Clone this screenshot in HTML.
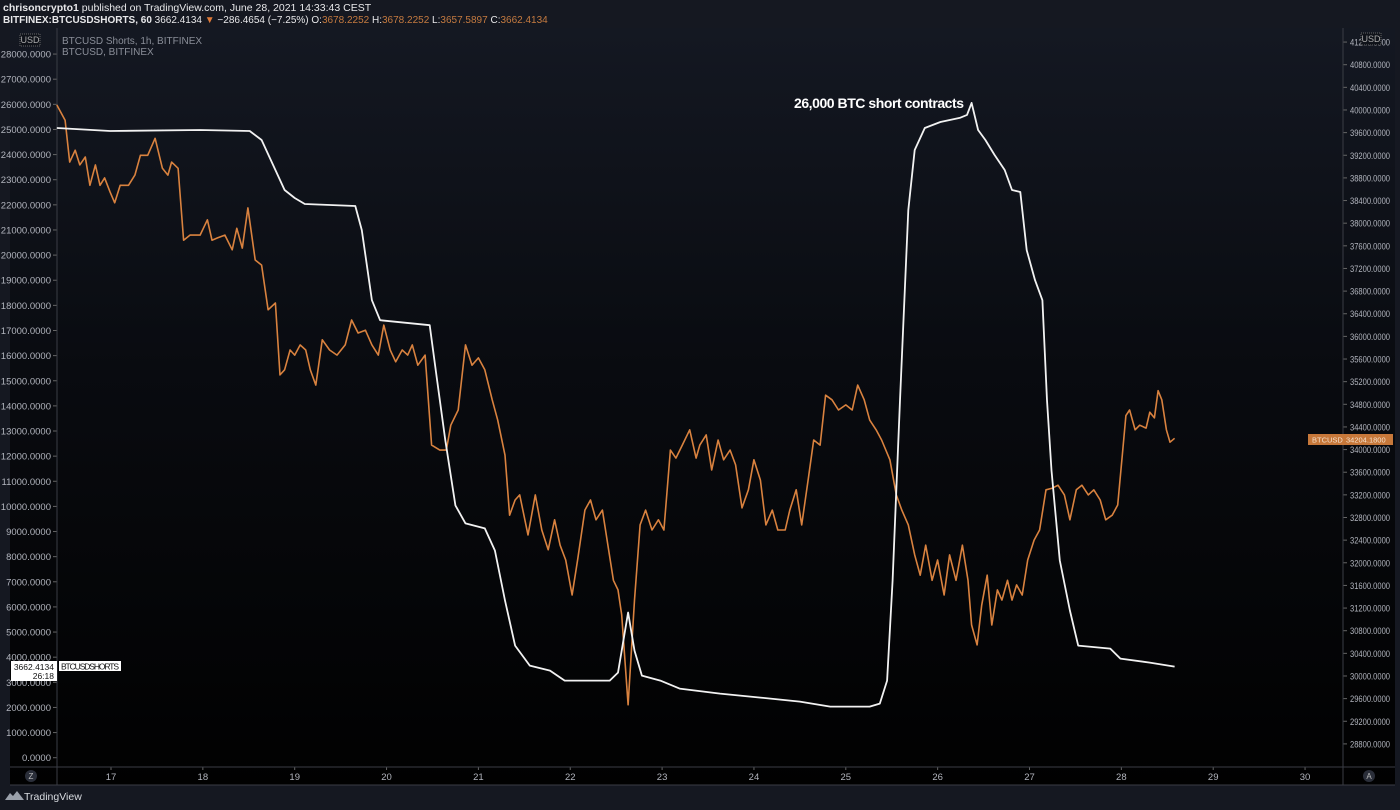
<!DOCTYPE html>
<html><head><meta charset="utf-8"><style>
html,body{margin:0;padding:0;background:#000;}
body{width:1400px;height:810px;overflow:hidden;font-family:"Liberation Sans",sans-serif;}
svg{display:block}
</style></head><body>
<svg id="chart" width="1400" height="810" xmlns="http://www.w3.org/2000/svg">
<defs>
<linearGradient id="bg" x1="0" y1="0" x2="0" y2="1">
<stop offset="0" stop-color="#141822"/><stop offset="0.45" stop-color="#090b10"/><stop offset="1" stop-color="#010101"/>
</linearGradient>
</defs>
<rect x="0" y="0" width="1400" height="810" fill="#151821"/>
<rect x="10" y="28" width="1385" height="757" fill="url(#bg)"/>
<text x="3" y="11" font-size="10.5" fill="#e8e8ea"><tspan font-weight="bold">chrisoncrypto1</tspan> published on TradingView.com, June 28, 2021 14:33:43 CEST</text>
<text x="3" y="23" font-size="10" fill="#e8e8ea"><tspan font-weight="bold">BITFINEX:BTCUSDSHORTS, 60</tspan> 3662.4134 <tspan fill="#e07b39">▼</tspan> −286.4654 (−7.25%) O:<tspan fill="#c47a40">3678.2252</tspan> H:<tspan fill="#c47a40">3678.2252</tspan> L:<tspan fill="#c47a40">3657.5897</tspan> C:<tspan fill="#c47a40">3662.4134</tspan></text>
<text x="62" y="44" font-size="10" fill="#8a8e98">BTCUSD Shorts, 1h, BITFINEX</text>
<text x="62" y="55" font-size="10" fill="#8a8e98">BTCUSD, BITFINEX</text>
<g id="leftAxis"></g>
<g id="rightAxis"></g>
<g id="xAxis"></g>
<line x1="57" y1="28" x2="57" y2="785" stroke="#3a3d45"/>
<line x1="1343" y1="28" x2="1343" y2="785" stroke="#3a3d45"/>
<line x1="10" y1="767" x2="1395" y2="767" stroke="#3a3d45"/>
<line x1="10" y1="785" x2="1395" y2="785" stroke="#3a3d45"/>
<rect x="20" y="34" width="20" height="12" fill="#0f1219" stroke="#666" stroke-dasharray="1,1"/>
<text x="30" y="43" font-size="9" fill="#aaa" text-anchor="middle">USD</text>
<g id="series"></g>
<rect x="1361" y="33" width="20" height="12" fill="#0f1219" stroke="#666" stroke-dasharray="1,1"/>
<text x="1371" y="42" font-size="9" fill="#aaa" text-anchor="middle">USD</text>
<circle cx="31" cy="776" r="6" fill="#2a2e39"/>
<text x="31" y="779" font-size="8" fill="#bbb" text-anchor="middle">Z</text>
<circle cx="1369" cy="776" r="6" fill="#2a2e39"/>
<text x="1369" y="779" font-size="8" fill="#bbb" text-anchor="middle">A</text>
<text x="794" y="108" font-size="14" font-weight="bold" fill="#ffffff" textLength="170">26,000 BTC short contracts</text>
<rect x="11" y="661" width="46" height="20" fill="#ffffff"/>
<text x="54" y="670" font-size="8.5" fill="#111" text-anchor="end">3662.4134</text>
<text x="54" y="679" font-size="8.5" fill="#111" text-anchor="end">26:18</text>
<rect x="59" y="661" width="62" height="10" fill="#ffffff"/>
<text x="61" y="669.5" font-size="8.5" fill="#111" textLength="58">BTCUSDSHORTS</text>
<rect x="1308" y="434" width="85" height="11" fill="#c7783a"/>
<text x="1312" y="442.5" font-size="7.5" fill="#f5e0cc">BTCUSD</text>
<text x="1346" y="442.5" font-size="7.5" fill="#f5e0cc">34204.1800</text>
<g>
<path d="M5 800 L10 793 L13 796 L17 791 L24 800 Z" fill="#9aa0aa"/>
<text x="24" y="800" font-size="10.5" fill="#d8dbe0">TradingView</text>
</g>
</svg>
<script>
const leftTicks=[0,1000,2000,3000,4000,5000,6000,7000,8000,9000,10000,11000,12000,13000,14000,15000,16000,17000,18000,19000,20000,21000,22000,23000,24000,25000,26000,27000,28000,29000];
const rightTicks=[28800,29200,29600,30000,30400,30800,31200,31600,32000,32400,32800,33200,33600,34000,34400,34800,35200,35600,36000,36400,36800,37200,37600,38000,38400,38800,39200,39600,40000,40400,40800,41200];
const dayTicks=[17,18,19,20,21,22,23,24,25,26,27,28,29,30];
const shortsTime=[16.41,16.99,17.97,18.51,18.64,18.79,18.89,19.00,19.11,19.66,19.73,19.84,19.93,20.47,20.55,20.64,20.75,20.86,21.07,21.18,21.29,21.40,21.56,21.78,21.94,22.43,22.52,22.63,22.70,22.78,22.98,23.19,23.63,24.07,24.50,24.83,25.26,25.37,25.45,25.51,25.59,25.68,25.75,25.86,26.03,26.24,26.32,26.37,26.44,26.52,26.62,26.73,26.81,26.90,26.97,27.06,27.14,27.19,27.24,27.33,27.44,27.53,27.88,27.99,28.31,28.58];
const shortsValues=[25059,24940,24980,24940,24581,23386,22589,22271,22032,21952,20996,18207,17410,17211,15020,12629,10040,9323,9124,8247,6255,4462,3665,3466,3068,3068,3386,5777,4263,3267,3068,2749,2550,2390,2231,2032,2032,2151,3068,7052,14223,21792,24183,25059,25298,25458,25577,26055,24980,24581,23984,23386,22589,22510,20199,19004,18207,14223,11434,7848,5856,4462,4343,3944,3785,3625];
const priceTime=[16.41,16.50,16.55,16.61,16.66,16.72,16.77,16.83,16.88,16.93,16.99,17.04,17.10,17.19,17.26,17.32,17.40,17.48,17.56,17.62,17.66,17.73,17.79,17.86,17.97,18.05,18.10,18.16,18.24,18.32,18.37,18.43,18.49,18.57,18.64,18.71,18.79,18.84,18.89,18.95,19.00,19.06,19.12,19.17,19.23,19.30,19.38,19.46,19.55,19.62,19.69,19.77,19.84,19.91,19.97,20.04,20.10,20.17,20.23,20.28,20.34,20.42,20.49,20.58,20.65,20.70,20.78,20.86,20.93,21.00,21.07,21.15,21.21,21.29,21.34,21.40,21.45,21.54,21.62,21.69,21.76,21.83,21.89,21.95,22.02,22.08,22.16,22.22,22.28,22.35,22.41,22.47,22.52,22.56,22.63,22.70,22.76,22.82,22.89,22.96,23.02,23.09,23.15,23.22,23.30,23.37,23.41,23.48,23.54,23.61,23.67,23.74,23.80,23.87,23.94,24.00,24.07,24.13,24.20,24.26,24.34,24.39,24.46,24.52,24.59,24.65,24.72,24.78,24.85,24.92,25.00,25.07,25.13,25.20,25.26,25.33,25.39,25.48,25.55,25.61,25.68,25.75,25.81,25.87,25.94,26.00,26.07,26.13,26.20,26.27,26.33,26.37,26.43,26.48,26.54,26.59,26.65,26.70,26.76,26.81,26.86,26.92,26.98,27.05,27.11,27.18,27.25,27.31,27.38,27.44,27.51,27.57,27.64,27.70,27.77,27.83,27.90,27.96,28.01,28.05,28.09,28.15,28.20,28.27,28.31,28.36,28.40,28.44,28.49,28.53,28.58];
const priceValues=[40090,39820,39080,39290,39030,39170,38670,39030,38670,38800,38550,38360,38670,38670,38850,39200,39200,39500,38970,38850,39080,38970,37700,37790,37790,38060,37700,37740,37790,37530,37910,37560,38270,37350,37260,36470,36590,35320,35410,35760,35670,35850,35760,35410,35140,35940,35760,35670,35850,36290,36060,36110,35850,35670,36200,35760,35550,35760,35670,35850,35490,35670,34080,33990,33990,34430,34700,35850,35490,35620,35410,34880,34520,33900,32840,33110,33200,32490,33200,32580,32230,32760,32310,32050,31430,32050,32930,33110,32760,32930,32310,31690,31520,31080,29490,31340,32670,32930,32580,32760,32580,33990,33850,34080,34350,33850,34080,34260,33640,34170,33820,33990,33730,32970,33290,33820,33460,32670,32930,32580,32580,32930,33290,32670,33460,34170,34080,34960,34880,34700,34790,34700,35140,34880,34520,34350,34170,33820,33200,32930,32670,32140,31780,32310,31690,32050,31430,32140,31690,32310,31690,30900,30550,31250,31780,30900,31520,31340,31690,31340,31610,31430,32050,32400,32580,33290,33320,33370,33200,32760,33290,33370,33200,33290,33110,32760,32840,33020,33900,34600,34700,34350,34430,34380,34660,34560,35040,34880,34350,34130,34200];

const NS="http://www.w3.org/2000/svg";
const xScale=d=>111+(d-17)*91.85;
const yLeft=v=>757.7-v*0.02513;
const yRight=v=>64.7+(40800-v)*0.05660;
function mk(tag,attrs,parent){const e=document.createElementNS(NS,tag);for(const k in attrs)e.setAttribute(k,attrs[k]);parent.appendChild(e);return e;}
const la=document.getElementById('leftAxis'),ra=document.getElementById('rightAxis'),xa=document.getElementById('xAxis'),sr=document.getElementById('series');
leftTicks.forEach(v=>{const y=yLeft(v);if(y<30)return;
 const t=mk('text',{x:51,y:y+3.5,'font-size':9.5,fill:'#b2b5be','text-anchor':'end'},la);t.textContent=v.toFixed(4);
 
 
 mk('line',{x1:53,x2:57,y1:y,y2:y,stroke:'#666'},la);});
rightTicks.forEach(v=>{const y=yRight(v);if(y<30)return;
 const t=mk('text',{x:1350,y:y+3.5,'font-size':9,fill:'#b2b5be',textLength:40,lengthAdjust:'spacingAndGlyphs'},ra);t.textContent=v.toFixed(4);
 
 
 mk('line',{x1:1343,x2:1347,y1:y,y2:y,stroke:'#666'},ra);});
dayTicks.forEach(d=>{const x=xScale(d);
 const t=mk('text',{x:x,y:780,'font-size':9.5,fill:'#b2b5be','text-anchor':'middle'},xa);t.textContent=String(d);
 
 
 mk('line',{x1:x,x2:x,y1:767,y2:770,stroke:'#666'},xa);});
const pp=priceTime.map((t,i)=>xScale(t).toFixed(1)+','+yRight(priceValues[i]).toFixed(1)).join(' ');
const pl=mk('polyline',{points:pp,fill:'none',stroke:'#d9823f','stroke-width':1.6,'stroke-linejoin':'round'},sr);


const sp=shortsTime.map((t,i)=>xScale(t).toFixed(1)+','+yLeft(shortsValues[i]).toFixed(1)).join(' ');
const sl=mk('polyline',{points:sp,fill:'none',stroke:'#f2f2f2','stroke-width':1.8,'stroke-linejoin':'round'},sr);


</script>
</body></html>
